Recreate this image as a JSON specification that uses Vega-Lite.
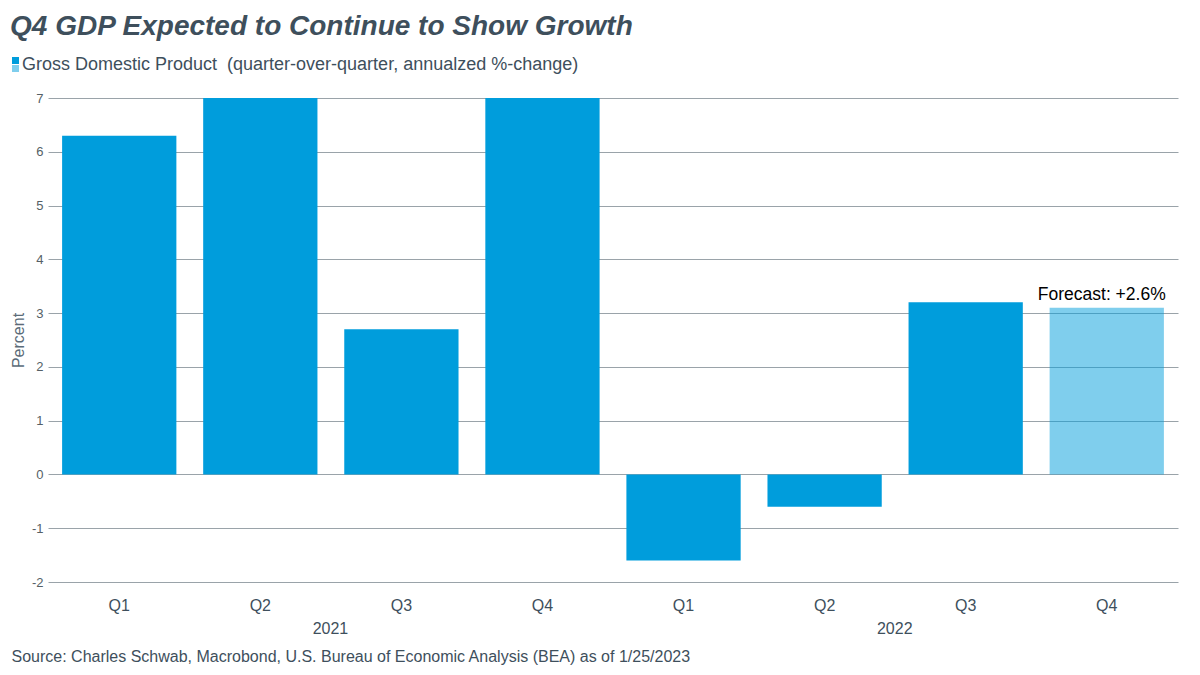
{
  "$schema": "https://vega.github.io/schema/vega-lite/v6.json",
  "autosize": "none",
  "width": 1130,
  "height": 484,
  "padding": {"left": 48, "top": 98, "right": 22, "bottom": 93},
  "background": "white",
  "config": {
    "font": "Liberation Sans",
    "view": {"stroke": null}
  },
  "title": {
    "text": "Q4 GDP Expected to Continue to Show Growth",
    "anchor": "start",
    "frame": "group",
    "dx": -38,
    "offset": 16,
    "font": "Liberation Sans",
    "fontSize": 28,
    "fontWeight": "bold",
    "fontStyle": "italic",
    "color": "#3e4f5c"
  },
  "datasets": {
    "gdp": [
      {"q": "2021 Q1", "quarter": "Q1", "type": "Actual", "value": 6.3},
      {"q": "2021 Q2", "quarter": "Q2", "type": "Actual", "value": 7.0},
      {"q": "2021 Q3", "quarter": "Q3", "type": "Actual", "value": 2.7},
      {"q": "2021 Q4", "quarter": "Q4", "type": "Actual", "value": 7.0},
      {"q": "2022 Q1", "quarter": "Q1", "type": "Actual", "value": -1.6},
      {"q": "2022 Q2", "quarter": "Q2", "type": "Actual", "value": -0.6},
      {"q": "2022 Q3", "quarter": "Q3", "type": "Actual", "value": 3.2},
      {"q": "2022 Q4", "quarter": "Q4", "type": "Forecast", "value": 3.1}
    ],
    "years": [
      {"q": "2021 Q2", "year": "2021"},
      {"q": "2022 Q2", "year": "2022"}
    ],
    "note": [
      {"q": "2022 Q4", "value": 3.1, "label": "Forecast: +2.6%"}
    ]
  },
  "layer": [
    {
      "data": {"name": "gdp"},
      "mark": {"type": "bar", "color": "#009ddc"},
      "encoding": {
        "x": {
          "field": "q",
          "type": "ordinal",
          "sort": null,
          "scale": {"paddingInner": 0.19, "paddingOuter": 0.1},
          "axis": {
            "labelExpr": "split(datum.value, ' ')[1]",
            "labelAngle": 0,
            "labelFontSize": 16,
            "labelColor": "#3e4f5c",
            "labelPadding": 15,
            "ticks": false,
            "domain": false,
            "grid": false,
            "title": "Source: Charles Schwab, Macrobond, U.S. Bureau of Economic Analysis (BEA) as of 1/25/2023",
            "titleAnchor": "start",
            "titleAlign": "left",
            "titleX": -37,
            "titleY": 79,
            "titleBaseline": "alphabetic",
            "titleFontSize": 16,
            "titleFontWeight": "normal",
            "titleColor": "#3e4f5c",
            "titleLimit": 1000
          }
        },
        "y": {
          "field": "value",
          "type": "quantitative",
          "scale": {"domain": [-2, 7], "nice": false},
          "axis": {
            "values": [-2, -1, 0, 1, 2, 3, 4, 5, 6, 7],
            "labelExpr": "'' + datum.value",
            "title": "Percent",
            "titleFontSize": 16,
            "titleFontWeight": "normal",
            "titleColor": "#5b6b78",
            "titleX": -30,
            "titleY": 242,
            "titleAngle": -90,
            "titleBaseline": "middle",
            "titleAlign": "center",
            "labelFontSize": 13,
            "labelColor": "#555f66",
            "labelPadding": 5,
            "ticks": false,
            "domain": false,
            "gridColor": "#9aa3a9",
            "gridWidth": 1
          }
        },
        "opacity": {
          "field": "type",
          "type": "nominal",
          "scale": {"domain": ["Actual", "Forecast"], "range": [1, 0.5]},
          "legend": {
            "orient": "none",
            "legendX": -36,
            "legendY": -41,
            "direction": "vertical",
            "title": "Gross Domestic Product \u00a0(quarter-over-quarter, annualzed %-change)",
            "titleOrient": "right",
            "titleFontSize": 18,
            "titleFontWeight": "normal",
            "titleColor": "#3e4f5c",
            "titlePadding": 3,
            "titleBaseline": "middle",
            "titleLimit": 1000,
            "symbolType": "square",
            "symbolSize": 49,
            "symbolFillColor": "#009ddc",
            "symbolStrokeWidth": 0,
            "rowPadding": 1,
            "labelExpr": "''",
            "labelOffset": 0,
            "labelFontSize": 1
          }
        }
      }
    },
    {
      "data": {"name": "note"},
      "mark": {"type": "text", "fontSize": 17.5, "color": "#000000", "baseline": "alphabetic", "dy": -8, "dx": -5},
      "encoding": {
        "x": {"field": "q", "type": "ordinal", "sort": null},
        "y": {"field": "value", "type": "quantitative"},
        "text": {"field": "label"}
      }
    },
    {
      "data": {"name": "years"},
      "mark": {"type": "text", "fontSize": 16, "color": "#3e4f5c", "baseline": "middle", "dy": 47, "dx": 13},
      "encoding": {
        "x": {"field": "q", "type": "ordinal", "sort": null, "bandPosition": 1},
        "y": {"datum": -2, "type": "quantitative"},
        "text": {"field": "year"}
      }
    }
  ]
}
